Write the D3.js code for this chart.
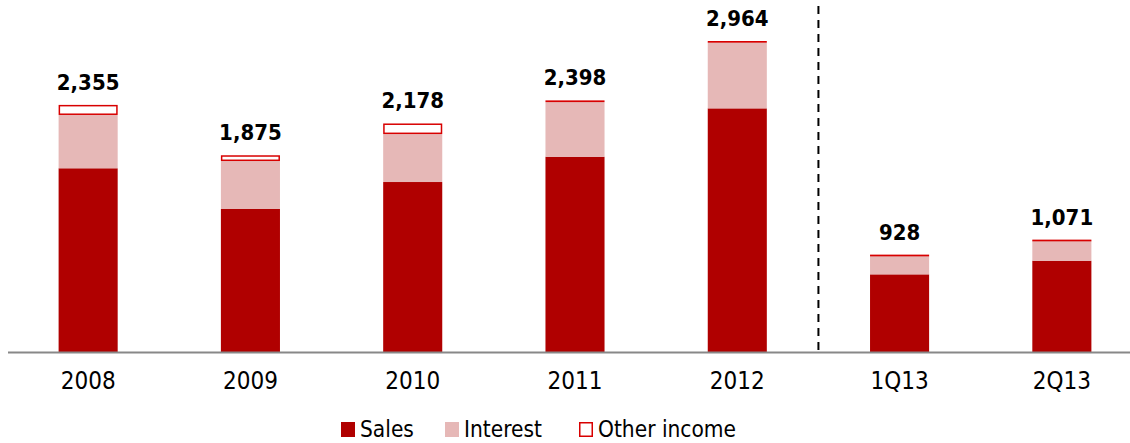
<!DOCTYPE html>
<html>
<head>
<meta charset="utf-8">
<script src="https://cdn.jsdelivr.net/npm/d3@7"></script>
<style>
  html, body { margin: 0; padding: 0; background: #fff; }
  svg { display: block; }
</style>
</head>
<body>
<svg id="chart" width="1130" height="443"></svg>
<script>
// Revenue breakdown by period (stacked: sales, interest, other income)
const periods = ["2008", "2009", "2010", "2011", "2012", "1Q13", "2Q13"];
const sales    = [1751, 1363, 1620, 1861, 2322, 740, 870];
const interest = [508, 457, 457, 522, 627, 178, 193];
const other    = [96, 55, 101, 15, 15, 10, 8];
const totals   = [2355, 1875, 2178, 2398, 2964, 928, 1071];
const seriesNames = ["Sales", "Interest", "Other income"];

const W = 1130, H = 443;
const baseY = 352;
const svg = d3.select("#chart");

const x = d3.scaleBand()
  .domain(periods)
  .range([7, 1143])
  .paddingInner(0.636)
  .paddingOuter(0.318);

const y = d3.scaleLinear()
  .domain([0, 2964])
  .range([baseY, 41]);

const colors = {
  "Sales": "#B00000",
  "Interest": "#E6B8B7",
  "Other income": "#ffffff"
};

const rows = periods.map((p, i) => ({
  period: p,
  "Sales": sales[i],
  "Interest": interest[i],
  "Other income": other[i]
}));

const stacked = d3.stack().keys(seriesNames)(rows);

const g = svg.append("g");

stacked.forEach(layer => {
  const key = layer.key;
  const outlined = key === "Other income";
  const inset = outlined ? 0.75 : 0;
  g.selectAll(null)
    .data(layer)
    .join("rect")
    .attr("x", d => x(d.data.period) + inset)
    .attr("width", x.bandwidth() - 2 * inset)
    .attr("y", d => y(d[1]) + inset)
    .attr("height", d => Math.max(0.2, y(d[0]) - y(d[1]) - 2 * inset))
    .attr("fill", colors[key])
    .attr("stroke", outlined ? "#D80000" : "none")
    .attr("stroke-width", outlined ? 1.5 : 0);
});

// total labels
g.selectAll(null)
  .data(periods)
  .join("text")
  .attr("x", d => x(d) + x.bandwidth() / 2)
  .attr("y", (d, i) => y(totals[i]) - 15)
  .attr("text-anchor", "middle")
  .attr("font-family", "'DejaVu Sans Condensed', 'DejaVu Sans', sans-serif")
  .attr("font-weight", "bold")
  .attr("font-size", 22)
  .attr("fill", "#000")
  .text((d, i) => d3.format(",")(totals[i]));

// x axis
const xAxis = d3.axisBottom(x).tickSize(0).tickPadding(20);
const axisG = svg.append("g")
  .attr("transform", `translate(0,${baseY})`)
  .call(xAxis);
axisG.select(".domain").remove();
axisG.append("line")
  .attr("x1", 8).attr("x2", W)
  .attr("y1", 0.5).attr("y2", 0.5)
  .attr("stroke", "#888888")
  .attr("stroke-width", 2);
axisG.selectAll(".tick text")
  .attr("font-family", "'DejaVu Sans Condensed', 'DejaVu Sans', sans-serif")
  .attr("font-size", 24)
  .attr("fill", "#000")
  .attr("dy", "0.71em");

// separator between annual and quarterly figures
const sepX = (x("2012") + x.bandwidth() + x("1Q13")) / 2;
svg.append("line")
  .attr("x1", sepX).attr("x2", sepX)
  .attr("y1", 6).attr("y2", baseY)
  .attr("stroke", "#000")
  .attr("stroke-width", 2)
  .attr("stroke-dasharray", "8,6");

// legend
const legendItems = [
  { name: "Sales", x: 341 },
  { name: "Interest", x: 445 },
  { name: "Other income", x: 579 }
];
const lg = svg.append("g");
legendItems.forEach(it => {
  const isOther = it.name === "Other income";
  lg.append("rect")
    .attr("x", it.x + (isOther ? 0.75 : 0))
    .attr("y", 422 + (isOther ? 0.75 : 0))
    .attr("width", 14 - (isOther ? 1.5 : 0))
    .attr("height", 15 - (isOther ? 1.5 : 0))
    .attr("fill", colors[it.name])
    .attr("stroke", isOther ? "#D80000" : "none")
    .attr("stroke-width", isOther ? 1.5 : 0);
  lg.append("text")
    .attr("x", it.x + 19)
    .attr("y", 437)
    .attr("font-family", "'DejaVu Sans Condensed', 'DejaVu Sans', sans-serif")
    .attr("font-size", 22.5)
    .attr("fill", "#000")
    .text(it.name);
});
</script>
</body>
</html>
